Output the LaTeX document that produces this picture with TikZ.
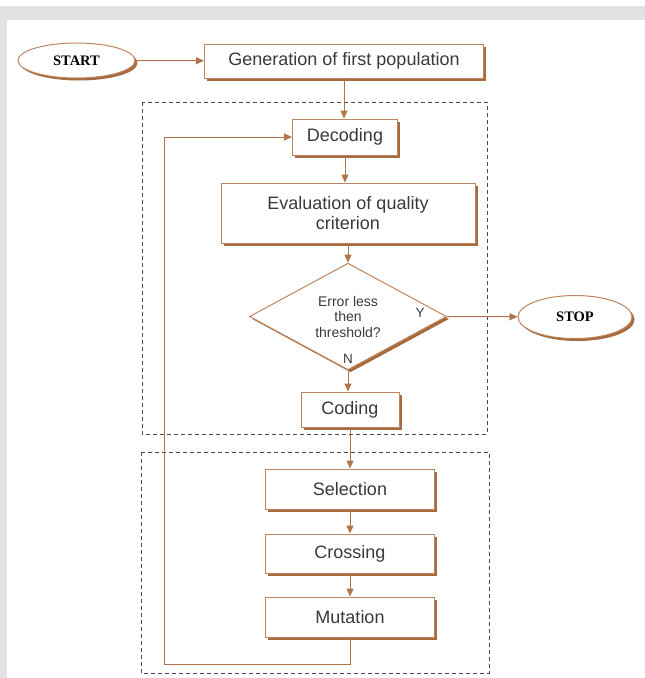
\documentclass[tikz,border=0pt]{standalone}
\usepackage{fontspec}
\setmainfont{Liberation Sans}
\newfontfamily\termfont{Liberation Serif}
\usepackage{tikz}
\usetikzlibrary{calc,arrows.meta,shapes.geometric,shadows}
\definecolor{frame}{HTML}{E2E2E2}
\definecolor{edge}{HTML}{BD8660}
\definecolor{shade}{HTML}{A56B3E}
\definecolor{flowc}{HTML}{B07448}
\definecolor{ink}{HTML}{3A3A3A}
\definecolor{groupline}{HTML}{4A4A4A}
\tikzset{
  box/.style={draw=edge, line width=1pt, fill=white, text=ink, inner sep=0pt, align=center,
    font=\fontsize{18}{20.5}\selectfont,
    drop shadow={shadow xshift=2.5pt, shadow yshift=-2.5pt, fill=shade, opacity=1}},
  term/.style={box, ellipse, text=black, font=\termfont\bfseries\fontsize{14.5}{16}\selectfont},
  test/.style={box, diamond, font=\fontsize{14}{15.5}\selectfont},
  flow/.style={-{Triangle[length=8pt,width=7pt]}, draw=flowc, line width=1pt},
  group/.style={draw=groupline, dash pattern=on 4pt off 3pt, line width=1pt},
  tag/.style={text=ink, font=\fontsize{13.5}{15}\selectfont}
}
\begin{document}
\begin{tikzpicture}[x=1pt, y=-1pt]
  \useasboundingbox (0,0) rectangle (645,678);
  \fill[frame] (0,6) rectangle (645,678);
  \fill[white] (7,20) rectangle (645,678);

  % dashed groups
  \draw[group] (142,102) rectangle (487,434);
  \draw[group] (141,452) rectangle (489,673);

  \node[term, minimum width=117pt, minimum height=35pt] (start) at (76.5,60.5) {START};
  \node[box, minimum width=279pt, minimum height=34pt] (gen) at (344,61) {Generation of first population};
  \node[box, minimum width=105pt, minimum height=36pt] (dec) at (345,137) {Decoding};
  \node[box, minimum width=254pt, minimum height=60pt] (eval) at (348,213) {Evaluation of quality\\criterion};
  \node[test, minimum width=197pt, minimum height=103pt] (err) at (348,316.5) {Error less\\then\\threshold?};
  \node[term, minimum width=114pt, minimum height=43pt] (stop) at (575,317) {STOP};
  \node[box, minimum width=98pt, minimum height=35pt] (cod) at (350,409.5) {Coding};
  \node[box, minimum width=169pt, minimum height=40pt] (sel) at (350,489) {Selection};
  \node[box, minimum width=169pt, minimum height=39pt] (cross) at (350,553.5) {Crossing};
  \node[box, minimum width=169pt, minimum height=40pt] (mut) at (350,617) {Mutation};
  \node[tag] (yes) at ($(err.east)+(-27,-4)$) {Y};
  \node[tag] (no) at ($(err.south)+(0,-11)$) {N};

  \coordinate (loop) at (164,664);

  \draw[flow] (start) -- (gen);
  \draw[flow] (gen.south) -- (gen.south |- dec.north);
  \draw[flow] (dec.south) -- (dec.south |- eval.north);
  \draw[flow] (eval.south) -- (err.north);
  \draw[flow] (err.east) -- (stop);
  \draw[flow] (err.south) -- (err.south |- cod.north);
  \draw[flow] (cod) -- (sel);
  \draw[flow] (sel) -- (cross);
  \draw[flow] (cross) -- (mut);
  \draw[flow] (mut.south) |- (loop) |- (dec.west);
\end{tikzpicture}
\end{document}
